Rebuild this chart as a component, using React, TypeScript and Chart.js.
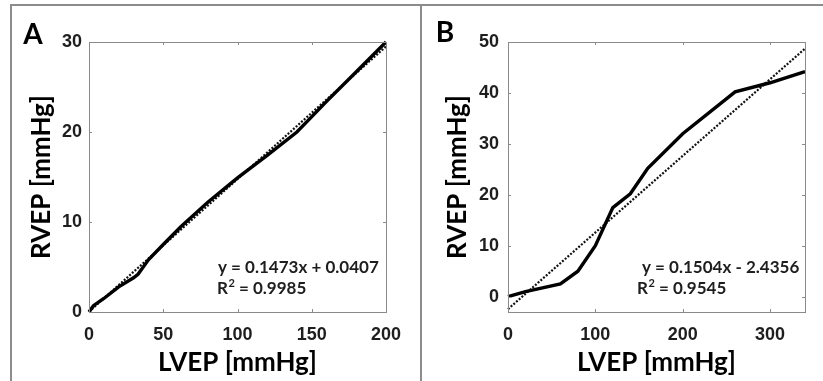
import React, { useEffect, useRef } from "react";
import { Chart, registerables } from "chart.js";

Chart.register(...registerables);

// Panel A data
const lvepA = [0, 3, 10, 20, 30, 33, 40, 50, 62, 80, 100, 120, 140, 160, 180, 200];
const rvepA = [0, 0.7, 1.5, 2.8, 3.8, 4.2, 5.8, 7.5, 9.5, 12.2, 14.9, 17.4, 20.0, 23.4, 26.7, 30.0];
const slopeA = 0.1473;
const interceptA = 0.0407;
const eqA = "y = 0.1473x + 0.0407";
const r2A = "0.9985";
const xTicksA = [0, 50, 100, 150, 200];
const yTicksA = [0, 10, 20, 30];

// Panel B data
const lvepB = [0, 20, 60, 80, 100, 120, 140, 160, 200, 260, 300, 340];
const rvepB = [0, 1.0, 2.5, 5.0, 10.0, 17.5, 20.2, 25.2, 32.0, 40.2, 42.0, 44.2];
const slopeB = 0.1504;
const interceptB = -2.4356;
const eqB = "y = 0.1504x - 2.4356";
const r2B = "0.9545";
const xTicksB = [0, 100, 200, 300];
const yTicksB = [0, 10, 20, 30, 40, 50];

type PanelCfg = {
  label: string;
  xs: number[];
  ys: number[];
  slope: number;
  intercept: number;
  eq: string;
  r2: string;
  xTicks: number[];
  yTicks: number[];
  xMin: number;
  xMax: number;
  yMin: number;
  yMax: number;
  width: number;
  plotLeft: number;
  plotRight: number;
  yTickPad: number;
  eqX: number;
  r2X: number;
  labelX: number;
  labelY: number;
  yTitleX: number;
};

const HEIGHT = 381;
const PLOT_TOP = 42;
const PLOT_BOTTOM = 312;
const FRAME = "#8a8a8a";
const TEXT = "#1e1e1e";
const TITLE_SIZE = 26;
const EQ_FONT = "bold 17px Lato";

function Panel({ cfg }: { cfg: PanelCfg }) {
  const ref = useRef<HTMLCanvasElement | null>(null);
  useEffect(() => {
    if (!ref.current) return;
    const trend = [cfg.xMin, cfg.xMax].map((x) => ({ x, y: cfg.slope * x + cfg.intercept }));
    const curve = cfg.xs.map((x, i) => ({ x, y: cfg.ys[i] }));

    const framePlugin = {
      id: "frame" + cfg.label,
      afterDraw(chart: any) {
        const { ctx, chartArea: a, scales } = chart;
        ctx.save();
        ctx.strokeStyle = FRAME;
        ctx.lineWidth = 1;
        ctx.strokeRect(Math.round(a.left) + 0.5, Math.round(a.top) + 0.5, Math.round(a.right - a.left), Math.round(a.bottom - a.top));
        const tl = 3;
        ctx.beginPath();
        for (const v of cfg.xTicks) {
          const px = Math.round(scales.x.getPixelForValue(v)) + 0.5;
          ctx.moveTo(px, a.bottom);
          ctx.lineTo(px, a.bottom - tl);
          ctx.moveTo(px, a.top);
          ctx.lineTo(px, a.top + tl);
        }
        for (const v of cfg.yTicks) {
          const py = Math.round(scales.y.getPixelForValue(v)) + 0.5;
          ctx.moveTo(a.left, py);
          ctx.lineTo(a.left + tl, py);
          ctx.moveTo(a.right, py);
          ctx.lineTo(a.right - tl, py);
        }
        ctx.stroke();
        // equation text
        ctx.fillStyle = TEXT;
        ctx.font = EQ_FONT;
        ctx.textBaseline = "middle";
        ctx.textAlign = "left";
        ctx.fillText(cfg.eq, cfg.eqX, 268);
        const rTxt = "R";
        ctx.fillText(rTxt, cfg.r2X, 289);
        const rw = ctx.measureText(rTxt).width;
        ctx.font = "bold 11px Lato";
        ctx.fillText("2", cfg.r2X + rw + 0.5, 283);
        const sw = ctx.measureText("2").width;
        ctx.font = EQ_FONT;
        ctx.fillText(" = " + cfg.r2, cfg.r2X + rw + sw + 0.5, 289);
        // panel label
        ctx.font = "bold 28px Lato";
        ctx.textAlign = "center";
        ctx.fillStyle = "#000";
        ctx.fillText(cfg.label, cfg.labelX, cfg.labelY);
        ctx.restore();
      },
    };

    const chart = new Chart(ref.current, {
      type: "scatter",
      data: {
        datasets: [
          {
            data: trend,
            showLine: true,
            borderColor: "#111",
            borderWidth: 2.2,
            borderDash: [2, 1.6],
            pointRadius: 0,
            clip: false as any,
            order: 2,
          },
          {
            data: curve,
            showLine: true,
            borderColor: "#000",
            borderWidth: 3.4,
            pointRadius: 0,
            tension: 0,
            clip: false as any,
            order: 1,
          },
        ],
      },
      options: {
        animation: false,
        responsive: false,
        maintainAspectRatio: false,
        events: [],
        layout: {
          padding: { left: 0, right: cfg.width - cfg.plotRight, top: PLOT_TOP, bottom: 0 },
        },
        plugins: { legend: { display: false }, tooltip: { enabled: false } },
        scales: {
          x: {
            type: "linear",
            min: cfg.xMin,
            max: cfg.xMax,
            afterFit: (s: any) => {
              s.height = HEIGHT - PLOT_BOTTOM;
            },
            afterBuildTicks: (s: any) => {
              s.ticks = cfg.xTicks.map((v) => ({ value: v }));
            },
            grid: { display: false, drawTicks: false },
            border: { display: false },
            ticks: {
              padding: 12,
              color: TEXT,
              font: { family: "'Liberation Sans'", size: 18, weight: "bold" },
              maxRotation: 0,
            },
            title: {
              display: true,
              text: "LVEP [mmHg]",
              color: "#000",
              font: { family: "Lato", size: TITLE_SIZE, weight: "bold" },
              padding: { top: 0, bottom: 3 },
            },
          },
          y: {
            type: "linear",
            min: cfg.yMin,
            max: cfg.yMax,
            afterFit: (s: any) => {
              s.width = cfg.plotLeft;
            },
            afterBuildTicks: (s: any) => {
              s.ticks = cfg.yTicks.map((v) => ({ value: v }));
            },
            grid: { display: false, drawTicks: false },
            border: { display: false },
            ticks: {
              padding: cfg.yTickPad,
              color: TEXT,
              font: { family: "'Liberation Sans'", size: 18, weight: "bold" },
            },
            title: {
              display: true,
              text: "RVEP [mmHg]",
              color: "#000",
              font: { family: "Lato", size: TITLE_SIZE, weight: "bold" },
              padding: { top: cfg.yTitleX - (TITLE_SIZE * 1.2) / 2, bottom: 0 },
            },
          },
        },
      },
      plugins: [framePlugin],
    });
    return () => chart.destroy();
  }, [cfg]);
  return <canvas ref={ref} width={cfg.width} height={HEIGHT} style={{ display: "block", width: cfg.width, height: HEIGHT }} />;
}

const cfgA: PanelCfg = {
  label: "A",
  xs: lvepA,
  ys: rvepA,
  slope: slopeA,
  intercept: interceptA,
  eq: eqA,
  r2: r2A,
  xTicks: xTicksA,
  yTicks: yTicksA,
  xMin: 0,
  xMax: 200,
  yMin: 0,
  yMax: 30,
  width: 421,
  plotLeft: 89,
  plotRight: 386,
  yTickPad: 7,
  eqX: 218,
  r2X: 217,
  labelX: 33,
  labelY: 35,
  yTitleX: 42,
};

const cfgB: PanelCfg = {
  label: "B",
  xs: lvepB,
  ys: rvepB,
  slope: slopeB,
  intercept: interceptB,
  eq: eqB,
  r2: r2B,
  xTicks: xTicksB,
  yTicks: yTicksB,
  xMin: 0,
  xMax: 340,
  yMin: -3,
  yMax: 50,
  width: 402,
  plotLeft: 87,
  plotRight: 384,
  yTickPad: 9,
  eqX: 221,
  r2X: 216,
  labelX: 24,
  labelY: 33,
  yTitleX: 37,
};

export default function App() {
  return (
    <div style={{ position: "absolute", left: 0, top: 0, width: 823, height: HEIGHT, background: "#fff", overflow: "hidden" }}>
      <div style={{ position: "absolute", left: 0, top: 0 }}>
        <Panel cfg={cfgA} />
      </div>
      <div style={{ position: "absolute", left: 421, top: 0 }}>
        <Panel cfg={cfgB} />
      </div>
      <div style={{ position: "absolute", left: 10, top: 4, width: 813, height: 2, background: "#8c8c8c" }} />
      <div style={{ position: "absolute", left: 10, top: 4, width: 2, height: 377, background: "#8c8c8c" }} />
      <div style={{ position: "absolute", left: 420, top: 4, width: 2, height: 377, background: "#8c8c8c" }} />
    </div>
  );
}
